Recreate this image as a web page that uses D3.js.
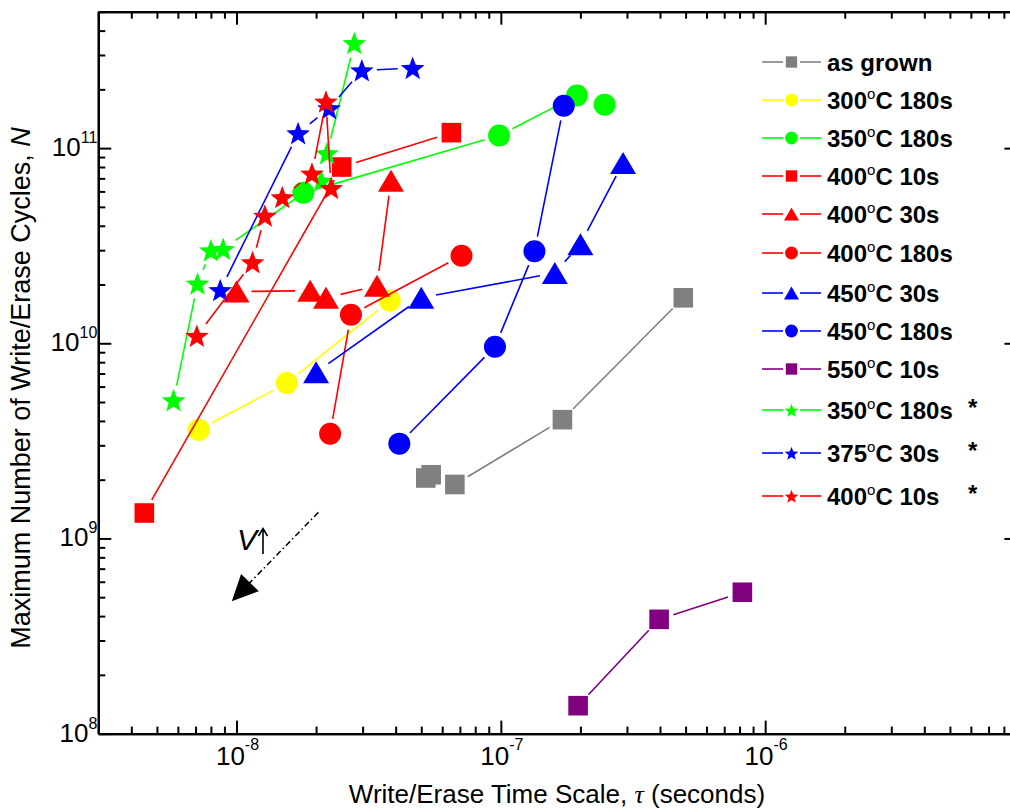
<!DOCTYPE html>
<html><head><meta charset="utf-8">
<script src="https://cdn.jsdelivr.net/npm/d3@7"></script>
<style>
body{margin:0;background:#fff}
svg{display:block;font-family:"Liberation Sans",Arial,Helvetica,sans-serif}
</style>
</head><body>
<svg id="chart" width="1010" height="812"></svg>
<script>
// ---------------- data ----------------
const seriesLabels = ["as grown","300°C 180s","350°C 180s","400°C 10s","400°C 30s","400°C 180s",
  "450°C 30s","450°C 180s","550°C 10s","350°C 180s","375°C 30s","400°C 10s"];
const seriesStarred = [false,false,false,false,false,false,false,false,false,true,true,true];
const seriesColors = ["#808080","#ffff00","#00ff00","#ff0000","#ff0000","#ff0000",
  "#0000ff","#0000ff","#800080","#00ff00","#0000ff","#ff0000"];
const seriesSymbols = ["square","circle","circle","square","triangle","circle",
  "triangle","circle","square","star","star","star"];

const asGrownTau = [5.2e-8, 5.45e-8, 6.7e-8, 1.71e-7, 4.9e-7];
const asGrownN   = [2.04e9, 2.12e9, 1.89e9, 4.06e9, 1.71e10];
const a300s180Tau = [7.2e-9, 1.55e-8, 3.8e-8];
const a300s180N   = [3.6e9, 6.25e9, 1.65e10];
const a350s180Tau = [1.79e-8, 9.85e-8, 1.94e-7, 2.47e-7];
const a350s180N   = [5.9e10, 1.16e11, 1.86e11, 1.67e11];
const a400s10Tau = [4.48e-9, 2.5e-8, 6.5e-8];
const a400s10N   = [1.35e9, 8.0e10, 1.2e11];
const a400s30Tau = [1.0e-8, 1.9e-8, 2.18e-8, 3.4e-8, 3.84e-8];
const a400s30N   = [1.84e10, 1.86e10, 1.71e10, 1.97e10, 6.8e10];
const a400s180Tau = [2.26e-8, 2.71e-8, 7.1e-8];
const a400s180N   = [3.44e9, 1.40e10, 2.81e10];
const a450s30Tau = [2.0e-8, 5.0e-8, 1.6e-7, 2.0e-7, 2.9e-7];
const a450s30N   = [7.1e9, 1.71e10, 2.29e10, 3.22e10, 8.4e10];
const a450s180Tau = [4.13e-8, 9.5e-8, 1.34e-7, 1.73e-7];
const a450s180N   = [3.06e9, 9.6e9, 2.96e10, 1.65e11];
const a550s10Tau = [1.96e-7, 3.97e-7, 8.2e-7];
const a550s10N   = [1.39e8, 3.85e8, 5.3e8];
const b350s180Tau = [5.78e-9, 7.12e-9, 8.0e-9, 8.9e-9, 2.09e-8, 2.2e-8, 2.79e-8];
const b350s180N   = [5.1e9, 2.02e10, 2.99e10, 3.04e10, 6.8e10, 9.4e10, 3.45e11];
const b375s30Tau = [8.68e-9, 1.71e-8, 2.24e-8, 2.98e-8, 4.64e-8];
const b375s30N   = [1.87e10, 1.19e11, 1.6e11, 2.5e11, 2.57e11];
const b400s10Tau = [7.08e-9, 1.15e-8, 1.28e-8, 1.49e-8, 1.93e-8, 2.18e-8, 2.28e-8];
const b400s10N   = [1.09e10, 2.6e10, 4.5e10, 5.6e10, 7.4e10, 1.73e11, 6.24e10];

const seriesTau = [asGrownTau,a300s180Tau,a350s180Tau,a400s10Tau,a400s30Tau,a400s180Tau,
  a450s30Tau,a450s180Tau,a550s10Tau,b350s180Tau,b375s30Tau,b400s10Tau];
const seriesN = [asGrownN,a300s180N,a350s180N,a400s10N,a400s30N,a400s180N,
  a450s30N,a450s180N,a550s10N,b350s180N,b375s30N,b400s10N];

const xMajorTicks = [1e-8, 1e-7, 1e-6];
const xTickExponents = ["-8","-7","-6"];
const yMajorTicks = [1e8, 1e9, 1e10, 1e11];
const yTickExponents = ["8","9","10","11"];
const xDomain = [3e-9, 9e-6];
const yDomain = [1e8, 5e11];
// annotation arrow: start (tau, N) and tip (tau, N)
const arrowStart = [2.04e-8, 1.36e9];
const arrowTip = [9.6e-9, 4.77e8];

// ---------------- layout ----------------
const L = 98.3, R = 1017.4, T = 11.7, B = 733.6;
const svg = d3.select("#chart");
const x = d3.scaleLog().domain(xDomain).range([L, R]);
const y = d3.scaleLog().domain(yDomain).range([B, T]);

function minors(dom){
  const out=[]; const lo=Math.floor(Math.log10(dom[0])), hi=Math.ceil(Math.log10(dom[1]));
  for(let e=lo;e<=hi;e++) for(let m=2;m<=9;m++){const v=m*Math.pow(10,e); if(v>=dom[0]*0.999&&v<=dom[1]*1.001) out.push(v);}
  return out;
}
const xMinor = minors(xDomain), yMinor = minors(yDomain);

function styleAxis(g){
  g.selectAll(".domain").attr("stroke","#000").attr("stroke-width",2.2);
  g.selectAll(".tick line").attr("stroke","#000").attr("stroke-width",2);
  g.selectAll(".tick text").remove();
}
svg.append("g").attr("transform",`translate(0,${B})`)
  .call(d3.axisBottom(x).tickValues(xMajorTicks).tickSizeInner(-13).tickSizeOuter(0).tickFormat(()=>"")).call(styleAxis);
svg.append("g").attr("transform",`translate(0,${B})`)
  .call(d3.axisBottom(x).tickValues(xMinor).tickSizeInner(-7).tickSizeOuter(0).tickFormat(()=>"")).call(styleAxis);
svg.append("g").attr("transform",`translate(0,${T})`)
  .call(d3.axisTop(x).tickValues(xMajorTicks).tickSizeInner(-13).tickSizeOuter(0).tickFormat(()=>"")).call(styleAxis);
svg.append("g").attr("transform",`translate(0,${T})`)
  .call(d3.axisTop(x).tickValues(xMinor).tickSizeInner(-7).tickSizeOuter(0).tickFormat(()=>"")).call(styleAxis);
svg.append("g").attr("transform",`translate(${L},0)`)
  .call(d3.axisLeft(y).tickValues(yMajorTicks).tickSizeInner(-13).tickSizeOuter(0).tickFormat(()=>"")).call(styleAxis);
svg.append("g").attr("transform",`translate(${L},0)`)
  .call(d3.axisLeft(y).tickValues(yMinor).tickSizeInner(-7).tickSizeOuter(0).tickFormat(()=>"")).call(styleAxis);
svg.append("g").attr("transform",`translate(${R},0)`)
  .call(d3.axisRight(y).tickValues(yMajorTicks).tickSizeInner(-13).tickSizeOuter(0).tickFormat(()=>"")).call(styleAxis);
svg.append("g").attr("transform",`translate(${R},0)`)
  .call(d3.axisRight(y).tickValues(yMinor).tickSizeInner(-7).tickSizeOuter(0).tickFormat(()=>"")).call(styleAxis);

// tick labels
xMajorTicks.forEach((v,i)=>{
  const t = svg.append("text").attr("x",x(v)+1).attr("y",765).attr("text-anchor","middle")
    .attr("font-size",26).attr("fill","#000");
  t.append("tspan").text("10");
  t.append("tspan").attr("dy",-15).attr("font-size",16).text(xTickExponents[i]);
});
yMajorTicks.forEach((v,i)=>{
  const t = svg.append("text").attr("x",L-1).attr("y",y(v)+8).attr("text-anchor","end")
    .attr("font-size",26).attr("fill","#000");
  t.append("tspan").text("10");
  t.append("tspan").attr("dy",-13).attr("font-size",16).text(yTickExponents[i]);
});

// axis titles
const xt = svg.append("text").attr("x",557).attr("y",803).attr("text-anchor","middle").attr("font-size",26);
xt.append("tspan").text("Write/Erase Time Scale, ");
xt.append("tspan").attr("font-family","'Liberation Serif','DejaVu Serif',serif").attr("font-style","italic").text("τ");
xt.append("tspan").text("  (seconds)");
const yt = svg.append("text").attr("transform","translate(30,388) rotate(-90)").attr("text-anchor","middle").attr("font-size",27);
yt.append("tspan").text("Maximum Number of Write/Erase Cycles, ");
yt.append("tspan").attr("font-style","italic").text("N");

// symbols
function symbolPath(kind, s){
  if(kind==="circle"){ const r=11*s; return `M${-r},0A${r},${r} 0 1,0 ${r},0A${r},${r} 0 1,0 ${-r},0Z`; }
  if(kind==="square"){ const h=9.8*s; return `M${-h},${-h}H${h}V${h}H${-h}Z`; }
  if(kind==="triangle"){ const w=13*s, hh=11*s; return `M0,${-hh}L${w},${hh}L${-w},${hh}Z`; }
  if(kind==="star"){ const Ro=12.5*s, Ri=Ro*0.42; let p="";
    for(let k=0;k<10;k++){const rr=k%2?Ri:Ro; const a=-Math.PI/2+k*Math.PI/5;
      p+=(k?"L":"M")+(rr*Math.cos(a)).toFixed(2)+","+(rr*Math.sin(a)+1).toFixed(2);} return p+"Z"; }
}

const plot = svg.append("g");
const gap = 15;
seriesLabels.forEach((lab,i)=>{
  const pts = seriesTau[i].map((t,j)=>[x(t), y(seriesN[i][j])]);
  const g = plot.append("g");
  for(let j=0;j<pts.length-1;j++){
    const [x1,y1]=pts[j],[x2,y2]=pts[j+1]; const dx=x2-x1, dy=y2-y1, d=Math.hypot(dx,dy);
    if(d<=2*gap) continue;
    const ux=dx/d, uy=dy/d;
    g.append("line").attr("x1",x1+ux*gap).attr("y1",y1+uy*gap).attr("x2",x2-ux*gap).attr("y2",y2-uy*gap)
      .attr("stroke",seriesColors[i]).attr("stroke-width",1.6);
  }
  g.selectAll("path.m").data(pts).join("path").attr("class","m")
    .attr("transform",d=>`translate(${d[0]},${d[1]})`)
    .attr("d",symbolPath(seriesSymbols[i],1)).attr("fill",seriesColors[i]);
});

// annotation arrow
{
  const a0=[x(arrowStart[0]),y(arrowStart[1])], tip=[x(arrowTip[0]),y(arrowTip[1])];
  const dx=tip[0]-a0[0], dy=tip[1]-a0[1], d=Math.hypot(dx,dy), ux=dx/d, uy=dy/d;
  const headLen=26, w=12.4;
  const base=[tip[0]-ux*headLen, tip[1]-uy*headLen];
  svg.append("line").attr("x1",a0[0]).attr("y1",a0[1]).attr("x2",base[0]+ux*4).attr("y2",base[1]+uy*4)
    .attr("stroke","#000").attr("stroke-width",1.5).attr("stroke-dasharray","6,3,1.5,3");
  svg.append("path").attr("d",`M${tip[0]},${tip[1]}L${base[0]-uy*w},${base[1]+ux*w}L${base[0]+uy*w},${base[1]-ux*w}Z`).attr("fill","#000");
}
svg.append("text").attr("x",237).attr("y",550).attr("font-size",30).attr("font-style","italic").text("V");
svg.append("path").attr("d","M263,554V529M258.5,536L263,528.5L267.5,536").attr("stroke","#000").attr("stroke-width",1.6).attr("fill","none");

// legend
const legendRowY = [62,100,138,176,214,253,293,331,369,410,453,496];
const leg = svg.append("g");
seriesLabels.forEach((lab,i)=>{
  const cy = legendRowY[i];
  leg.append("line").attr("x1",762).attr("x2",783).attr("y1",cy).attr("y2",cy).attr("stroke",seriesColors[i]).attr("stroke-width",1.6);
  leg.append("line").attr("x1",800).attr("x2",821).attr("y1",cy).attr("y2",cy).attr("stroke",seriesColors[i]).attr("stroke-width",1.6);
  leg.append("path").attr("transform",`translate(791.5,${cy})`).attr("d",symbolPath(seriesSymbols[i],0.58)).attr("fill",seriesColors[i]);
  const t = leg.append("text").attr("x",827).attr("y",cy+9).attr("font-size",24).attr("font-weight","bold");
  if(lab.includes("°")){
    const [a,b]=lab.split("°");
    t.append("tspan").text(a);
    t.append("tspan").attr("dy",-10).attr("font-size",15).attr("font-weight","normal").text("o");
    t.append("tspan").attr("dy",10).text(b);
  } else t.text(lab);
  if(seriesStarred[i]) leg.append("text").attr("x",968).attr("y",cy+6).attr("font-size",24).attr("font-weight","bold").text("*");
});
</script>
</body></html>
